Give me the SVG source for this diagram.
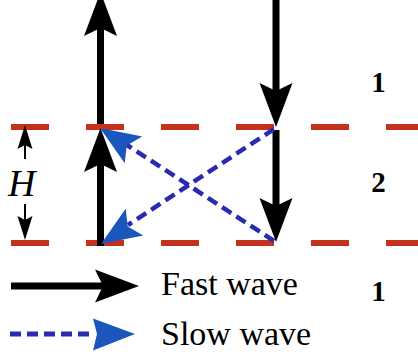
<svg xmlns="http://www.w3.org/2000/svg" width="418" height="360" viewBox="0 0 418 360">
<style>
.red{stroke:#c4321e;stroke-width:6;stroke-dasharray:38 37;fill:none}
.fast{stroke:#000;stroke-width:7;fill:none}
.slow{stroke:#2a2ab0;stroke-width:4.5;stroke-dasharray:11 6;fill:none}
.bh{fill:#000}
.sh{fill:#1a56bc}
.thin{stroke:#000;stroke-width:2;fill:none}
.lbl{font-size:34px;fill:#000}
.num{font-size:29px;font-weight:bold;fill:#000;text-anchor:middle}
</style>
<defs>
<polygon id="bhead" points="0,0 -44,-16.5 -36,0 -44,16.5"/>
<polygon id="shead" points="0,0 -40,-16 -32,0 -40,16"/>
<polygon id="thead" points="0,0 -24,-7.5 -20,0 -24,7.5"/>
</defs>
<g id="interfaces">
<line class="red" x1="11" y1="127" x2="418" y2="127"/>
<line class="red" x1="11" y1="243" x2="418" y2="243"/>
</g>
<g id="connectors">
<g id="fast-left">
<line class="fast" x1="100.5" y1="246" x2="100.5" y2="160"/>
<use href="#bhead" class="bh" transform="translate(100.5,128) rotate(-90)"/>
<line class="fast" x1="100.5" y1="124" x2="100.5" y2="25"/>
<use href="#bhead" class="bh" transform="translate(100.5,-8) rotate(-90)"/>
</g>
<g id="fast-right">
<line class="fast" x1="276" y1="0" x2="276" y2="95"/>
<use href="#bhead" class="bh" transform="translate(276,127) rotate(90)"/>
<line class="fast" x1="276" y1="130" x2="276" y2="210"/>
<use href="#bhead" class="bh" transform="translate(276,242) rotate(90)"/>
</g>
<g id="slow-waves">
<line class="slow" x1="274" y1="241" x2="127" y2="145"/>
<use href="#shead" class="sh" transform="translate(100,128) rotate(213.2)"/>
<line class="slow" x1="274" y1="129" x2="128" y2="225"/>
<use href="#shead" class="sh" transform="translate(101,244) rotate(146.7)"/>
</g>
</g>
<g id="thickness">
<line class="thin" x1="25" y1="145" x2="25" y2="159"/>
<use href="#thead" class="bh" transform="translate(25,125) rotate(-90)"/>
<line class="thin" x1="25" y1="204" x2="25" y2="220"/>
<use href="#thead" class="bh" transform="translate(25,240) rotate(90)"/>
<text x="8" y="196" font-family="Liberation Serif, serif" font-size="38" font-style="italic">H</text>
</g>
<g id="layers" font-family="Liberation Serif, serif">
<text class="num" x="378.5" y="92">1</text>
<text class="num" x="378.5" y="192">2</text>
<text class="num" x="378.5" y="301">1</text>
</g>
<g id="legend" font-family="Liberation Serif, serif">
<line class="fast" x1="11" y1="286" x2="105" y2="286"/>
<use href="#bhead" class="bh" transform="translate(139,286)"/>
<text class="lbl" x="161" y="295">Fast wave</text>
<line class="slow" x1="10" y1="334" x2="95" y2="334" style="stroke-width:5"/>
<polygon class="sh" points="135,334 93,318.5 97,334 93,350.5"/>
<text class="lbl" x="161" y="345">Slow wave</text>
</g>
</svg>
